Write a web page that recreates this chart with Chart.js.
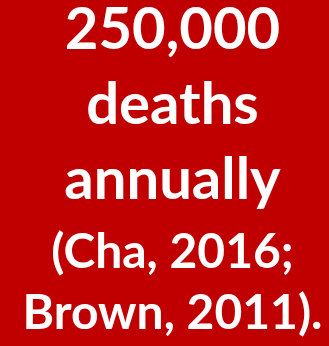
<!DOCTYPE html>
<html>
<head>
<meta charset="utf-8">
<script src="https://cdn.jsdelivr.net/npm/chart.js@4"></script>
<style>
  html, body { margin: 0; padding: 0; background: #c00000; }
  #wrap { width: 329px; height: 346px; }
</style>
</head>
<body>
<div id="wrap"><canvas id="myChart"></canvas></div>
<script>
// text of the slide, no numeric series in this picture
const headline = ['250,000', 'deaths', 'annually'];
const citation = ['(Cha, 2016;', 'Brown, 2011).'];
const labels = [];
const values = [];

let ctx = document.getElementById('myChart');

let myChart = new Chart(ctx, {
    type: 'bar',
    data: {
        labels: labels,
        datasets: [{
            label: 'deaths',
            data: values,
            backgroundColor: '#ffffff'
        }]
    },
    options: {
        responsive: true,
        maintainAspectRatio: false,
        animation: false,
        layout: { padding: { left: 16, right: 0, top: 0, bottom: 0 } },
        scales: {
            x: { display: false },
            y: { display: false }
        },
        plugins: {
            legend: { display: false },
            tooltip: { enabled: false },
            title: {
                display: true,
                text: headline,
                color: '#ffffff',
                font: { family: 'Lato', size: 58, weight: 'bold', lineHeight: '75px' },
                padding: { top: -7, bottom: 0 }
            },
            subtitle: {
                display: true,
                text: citation,
                color: '#ffffff',
                font: { family: 'Lato', size: 48, weight: 'bold', lineHeight: '61px' },
                padding: { top: 4, bottom: 0 }
            }
        }
    }
});
</script>
</body>
</html>
